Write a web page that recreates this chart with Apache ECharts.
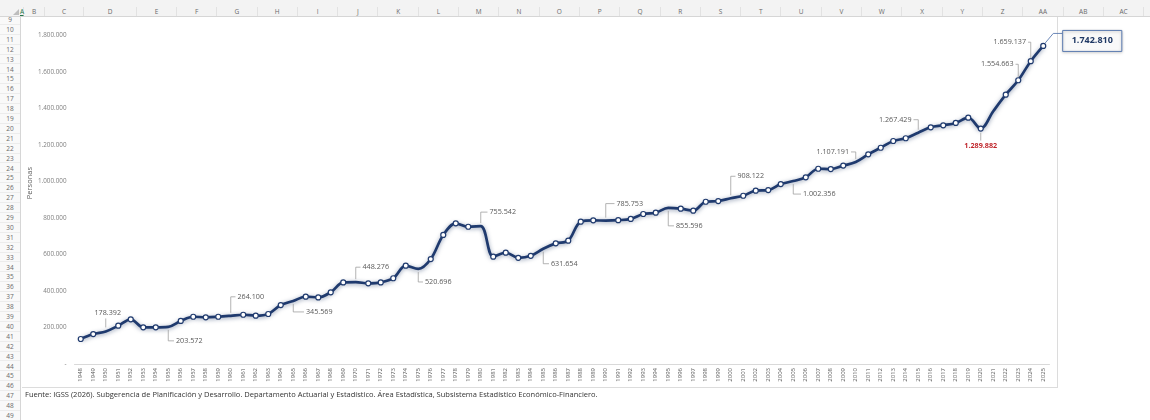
<!DOCTYPE html>
<html>
<head>
<meta charset="utf-8">
<title>Afiliados IGSS 1948-2025</title>
<script src="https://cdn.jsdelivr.net/npm/echarts@6/dist/echarts.min.js"></script>
<style>
    html, body { margin: 0; padding: 0; width: 1150px; height: 420px; overflow: hidden; background: #fff; font-family: 'Open Sans', sans-serif; }
    #colhead { position: absolute; left: 0; top: 0; width: 1150px; height: 16px; background: #f3f3f3; border-bottom: 1px solid #d6d6d6; z-index: 3; }
    .col { position: absolute; top: 7px; height: 9px; line-height: 9px; font-size: 6.5px; color: #6a6a6a; text-align: center; border-right: 1px solid #e2e2e2; box-sizing: border-box; }
    #rowhead { position: absolute; left: 0; top: 0; width: 20px; height: 420px; background: #f9f9f9; border-right: 1px solid #d6d6d6; z-index: 2; }
    .row { position: absolute; left: 0; width: 20px; font-size: 6.5px; color: #6a6a6a; text-align: center; border-bottom: 1px solid #ececec; box-sizing: border-box; }
    #corner { position: absolute; left: 13px; top: 9px; width: 0; height: 0; border-left: 6px solid transparent; border-bottom: 6px solid #bdbdbd; z-index: 4; }
    #chartbox { position: absolute; left: 22px; top: 17px; width: 1035px; height: 370px; border-right: 1px solid #dcdcdc; border-bottom: 1px solid #dcdcdc; }
    #chart { position: absolute; left: 0; top: 0; width: 1150px; height: 420px; z-index: 1; }
    #fuente { position: absolute; left: 25px; top: 389px; font-size: 7.6px; color: #333; white-space: nowrap; z-index: 1; }
</style>
</head>
<body>
<div id="colhead"></div>
<div id="corner"></div>
<div id="rowhead"></div>
<div id="chartbox"></div>
<div id="chart"></div>
<div id="fuente">Fuente: IGSS (2026). Subgerencia de Planificación y Desarrollo. Departamento Actuarial y Estadístico. Área Estadística, Subsistema Estadístico Económico-Financiero.</div>
<script>
// --- datos ---
const years = [
    '1948', '1949', '1950', '1951', '1952', '1953', '1954', '1955', '1956', '1957',
    '1958', '1959', '1960', '1961', '1962', '1963', '1964', '1965', '1966', '1967',
    '1968', '1969', '1970', '1971', '1972', '1973', '1974', '1975', '1976', '1977',
    '1978', '1979', '1980', '1981', '1982', '1983', '1984', '1985', '1986', '1987',
    '1988', '1989', '1990', '1991', '1992', '1993', '1994', '1995', '1996', '1997',
    '1998', '1999', '2000', '2001', '2002', '2003', '2004', '2005', '2006', '2007',
    '2008', '2009', '2010', '2011', '2012', '2013', '2014', '2015', '2016', '2017',
    '2018', '2019', '2020', '2021', '2022', '2023', '2024', '2025'
];

const personas = [
    137000, 164000, 178392, 210000, 245000, 201000, 201000, 203572, 236000, 259000,
    256000, 259000, 264100, 270000, 265000, 274000, 323000, 345569, 369000, 365000,
    393000, 447000, 448276, 442000, 447000, 470000, 539000, 520696, 575000, 707000,
    771000, 752000, 755542, 588000, 610000, 582000, 593000, 631654, 661000, 676000,
    780000, 787000, 785753, 788000, 795000, 822000, 829000, 855596, 851000, 840000,
    889000, 893000, 908122, 922000, 950000, 953000, 986000, 1002356, 1023000, 1070000,
    1068000, 1087000, 1107191, 1149000, 1185000, 1222000, 1237000, 1267429, 1297000, 1308000,
    1321000, 1350000, 1289882, 1385000, 1476000, 1554663, 1659137, 1742810
];

// years shown with a data label
const labeledYears = ['1950', '1955', '1960', '1965', '1970', '1975', '1980', '1985', '1990',
    '1995', '2000', '2005', '2010', '2015', '2020', '2023', '2024', '2025'];
// years drawn without a marker
const noMarkerYears = ['1950', '1955', '1960', '1965', '1970', '1975', '1980', '1985', '1990',
    '1995', '2000', '2005', '2010', '2015', '2021'];
const minYear = '2020';   // red label
const lastYear = '2025';  // boxed label

const yMin = 0;
const yMax = 1800000;
const yStep = 200000;

// label offsets from the point (px), style only
const labelOffsets = {
    '1950': [2, -18], '1955': [21, 14], '1960': [20, -19], '1965': [26, 11],
    '1970': [20, -15], '1975': [20, 13], '1980': [22, -14], '1985': [21, 15],
    '1990': [24, -17], '1995': [21, 18], '2000': [20, -22], '2005': [26, 13],
    '2010': [-23, -10], '2015': [-23, -13], '2020': [0, 17], '2023': [-21, -16],
    '2024': [-21, -19], '2025': [49, -5]
};

const NAVY = '#1f3a6e';
const FONT = "'Open Sans', sans-serif";

function fmt(v) {
    return String(v).replace(/\B(?=(\d{3})+(?!\d))/g, '.');
}

// text width helper for leader lines
const measureCtx = document.createElement('canvas').getContext('2d');
function textWidth(text, size, weight) {
    measureCtx.font = (weight || 'normal') + ' ' + size + 'px ' + FONT;
    return measureCtx.measureText(text).width;
}

// --- hoja de Excel (encabezados) ---
const colLetters = ['A', 'B', 'C', 'D', 'E', 'F', 'G', 'H', 'I', 'J', 'K', 'L', 'M', 'N', 'O',
    'P', 'Q', 'R', 'S', 'T', 'U', 'V', 'W', 'X', 'Y', 'Z', 'AA', 'AB', 'AC'];
const colStarts = [20, 24, 45, 84, 137];
(function buildSheet() {
    const head = document.getElementById('colhead');
    colLetters.forEach((c, i) => {
        const left = i < colStarts.length ? colStarts[i] : 177 + (i - 5) * 40.3;
        const right = i + 1 < colStarts.length ? colStarts[i + 1] : 177 + (i - 4) * 40.3;
        const el = document.createElement('div');
        el.className = 'col';
        el.style.left = left + 'px';
        el.style.width = (right - left) + 'px';
        el.textContent = c;
        if (c === 'A') { el.style.color = '#217346'; el.style.borderBottom = '1.5px solid #217346'; }
        head.appendChild(el);
    });
    const rows = document.getElementById('rowhead');
    for (let n = 9; n <= 50; n++) {
        const el = document.createElement('div');
        el.className = 'row';
        el.style.top = (15 + (n - 9) * 9.9) + 'px';
        el.style.height = '9.9px';
        el.style.lineHeight = '9.9px';
        el.textContent = n;
        rows.appendChild(el);
    }
    const f = document.getElementById('fuente');
    const w = f.getBoundingClientRect().width;
    f.style.fontSize = (7.6 * 573 / w) + 'px';
})();

// --- grafico ---
const chart = echarts.init(document.getElementById('chart'), null, { renderer: 'canvas' });

const lineData = personas.map((v, i) => {
    const item = { value: v };
    if (noMarkerYears.includes(years[i])) {
        item.symbolSize = 1;
        item.itemStyle = { color: NAVY, borderColor: NAVY, borderWidth: 0 };
    }
    return item;
});

const labelData = labeledYears.map(y => [y, personas[years.indexOf(y)]]);

// labels + leader lines, positioned from the axis coordinates of each point
function renderLabel(params, api) {
    const yr = labeledYears[params.dataIndex];
    const value = api.value(1);
    const p = api.coord([api.value(0), value]);
    const off = labelOffsets[yr];
    const px = p[0], py = p[1];
    const lx = px + off[0], ly = py + off[1];
    const text = fmt(value);
    const children = [];

    if (yr === lastYear) {
        const tw = textWidth(text, 9, 'bold');
        const bw = tw + 18, bh = 21;
        children.push({
            type: 'polyline',
            shape: { points: [[px + 2, py - 3], [px + 10, py - 12.5], [lx - bw / 2, py - 12.5]] },
            style: { stroke: '#5b7bb0', lineWidth: 0.9, fill: null }
        });
        children.push({
            type: 'rect',
            shape: { x: lx - bw / 2, y: ly - bh / 2, width: bw, height: bh },
            style: { fill: '#f9f9f9', stroke: '#5b7bb0', lineWidth: 1, shadowBlur: 3, shadowColor: 'rgba(0,0,0,0.25)', shadowOffsetY: 1 }
        });
        children.push({
            type: 'text',
            x: lx, y: ly,
            style: { text: text, fill: '#1f3864', fontSize: 9, fontWeight: 'bold', fontFamily: FONT, align: 'center', verticalAlign: 'middle' }
        });
        return { type: 'group', children: children };
    }

    const isMin = yr === minYear;
    const weight = isMin ? 'bold' : 'normal';
    const tw = textWidth(text, 7.2, weight);
    const th = 8;
    const sy = off[1] > 0 ? 1 : -1;
    let pts;
    if (Math.abs(off[0]) < 6) {
        pts = [[px, py + sy * 4], [px, ly - sy * (th / 2 + 1)]];
    } else {
        const sx = off[0] > 0 ? 1 : -1;
        pts = [[px, py + sy * 3], [px, ly], [lx - sx * (tw / 2 + 2), ly]];
    }
    children.push({
        type: 'polyline',
        shape: { points: pts },
        style: { stroke: '#a0a0a0', lineWidth: 0.8, fill: null }
    });
    children.push({
        type: 'text',
        x: lx, y: ly,
        style: {
            text: text,
            fill: isMin ? '#c0272d' : '#595959',
            fontSize: 7.2,
            fontWeight: weight,
            fontFamily: FONT,
            align: 'center',
            verticalAlign: 'middle'
        }
    });
    return { type: 'group', children: children };
}

const option = {
    backgroundColor: 'transparent',
    animation: false,
    grid: { left: 74.5, right: 100.5, top: 35.5, bottom: 56, containLabel: false, outerBoundsMode: 'none' },
    xAxis: {
        type: 'category',
        data: years,
        boundaryGap: true,
        axisLine: { show: true, lineStyle: { color: '#d9d9d9', width: 1 } },
        axisTick: { show: false },
        axisLabel: { interval: 0, rotate: 90, fontSize: 6, color: '#595959', fontFamily: FONT, margin: 4 },
        splitLine: { show: false }
    },
    yAxis: {
        type: 'value',
        min: yMin,
        max: yMax,
        interval: yStep,
        axisLine: { show: false },
        axisTick: { show: false },
        splitLine: { show: false },
        axisLabel: {
            fontSize: 6.3,
            color: '#7f7f7f',
            fontFamily: FONT,
            margin: 8,
            formatter: v => (v === 0 ? '-' : fmt(v))
        }
    },
    graphic: [{
        type: 'text',
        left: 26,
        top: 167,
        rotation: Math.PI / 2,
        style: { text: 'Personas', fontSize: 7.5, fill: '#595959', fontFamily: FONT }
    }],
    series: [{
        type: 'line',
        data: lineData,
        smooth: 0.35,
        symbol: 'circle',
        symbolSize: 5,
        showAllSymbol: true,
        itemStyle: { color: '#ffffff', borderColor: NAVY, borderWidth: 1.2 },
        lineStyle: { color: NAVY, width: 2.7, shadowColor: 'rgba(31,56,100,0.5)', shadowBlur: 4, shadowOffsetY: 1 },
        z: 3
    }, {
        type: 'custom',
        coordinateSystem: 'cartesian2d',
        data: labelData,
        encode: { x: 0, y: 1 },
        renderItem: renderLabel,
        clip: false,
        silent: true,
        z: 4
    }]
};

chart.setOption(option);
</script>
</body>
</html>
